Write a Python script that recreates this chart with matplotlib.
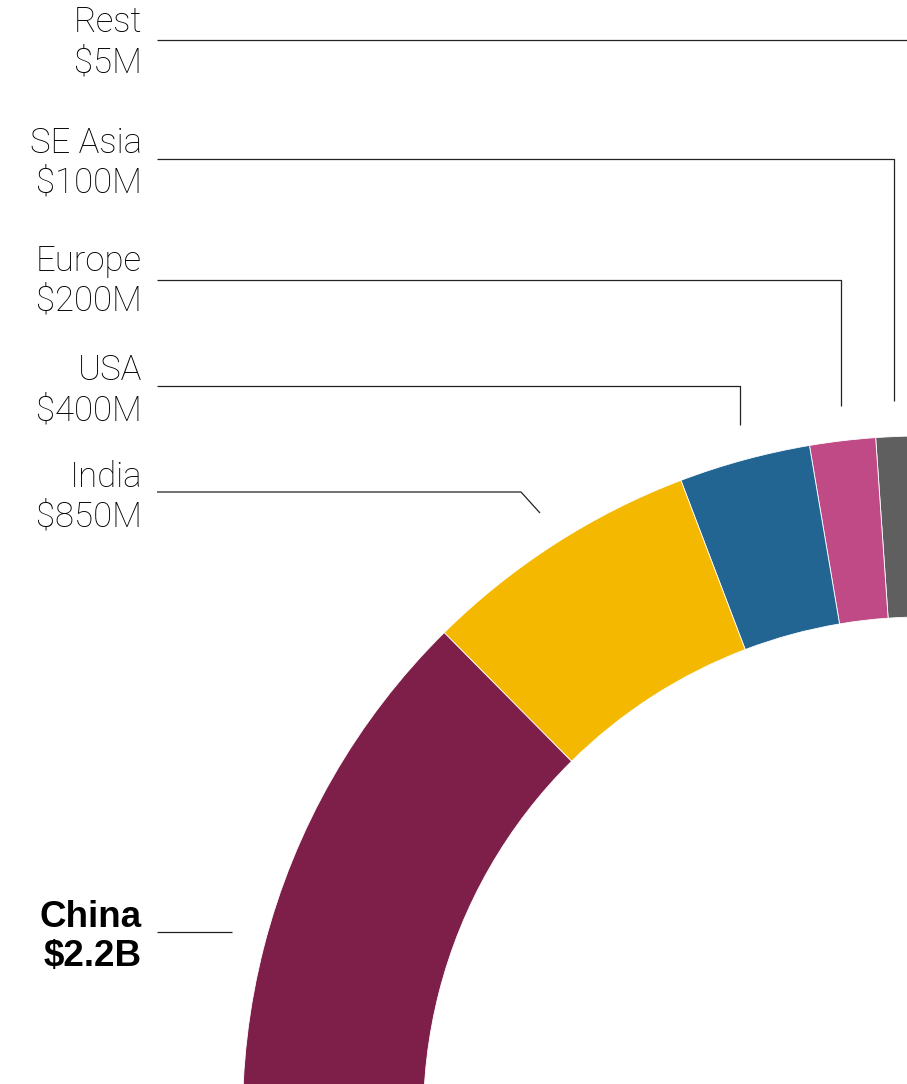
import matplotlib
matplotlib.use("Agg")
import matplotlib.pyplot as plt

# values in $B, drawn counterclockwise from the top
regions = ["Rest", "SE Asia", "Europe", "USA", "India", "China"]
values = [0.005, 0.1, 0.2, 0.4, 0.85, 2.2]
value_labels = ["$5M", "$100M", "$200M", "$400M", "$850M", "$2.2B"]
colors = ["#BDBDBD", "#5F5F5F", "#C04A85", "#226593", "#F5B800", "#7D1F48"]

W, H = 907, 1084
DEG_PER_B = 28.1  # arc degrees per $1B

plt.rcParams["font.family"] = ["Roboto", "DejaVu Sans"]

fig = plt.figure(figsize=(W / 100, H / 100), dpi=100)
ax = fig.add_axes([0, 0, 1, 1])

fracs = [v * DEG_PER_B / 360 for v in values]
ax.pie(fracs, center=(922.5, H - 1116), radius=680, startangle=91,
       counterclock=True, normalize=False, colors=colors,
       wedgeprops=dict(width=181, edgecolor="white", linewidth=0.6))

ax.set_xlim(0, W)
ax.set_ylim(0, H)
ax.set_aspect("auto")
ax.axis("off")

# label baselines (px from top) and leader lines
name_y = [32, 153, 271, 380, 487, 927]
leaders = [
    [(157, 40), (907, 40)],
    [(157, 159), (894, 159), (894, 401)],
    [(157, 280), (841, 280), (841, 406)],
    [(157, 386), (740, 386), (740, 425)],
    [(157, 492), (521, 492), (540, 513)],
    [(157, 932), (232, 932)],
]

for name, lab, y, pts in zip(regions, value_labels, name_y, leaders):
    if name == "China":
        kw = dict(fontsize=26.5, fontweight="bold",
                  family=["Liberation Sans", "DejaVu Sans"])
        gap = 39
    else:
        kw = dict(fontsize=25, fontweight="light")
        gap = 40
    ax.text(142, H - y, name, ha="right", va="baseline", color="black", **kw)
    ax.text(142, H - y - gap, lab, ha="right", va="baseline", color="black", **kw)
    xs = [p[0] for p in pts]
    ys = [H - p[1] for p in pts]
    ax.plot(xs, ys, color="#222222", lw=0.9, solid_capstyle="butt")

fig.savefig("out.png", dpi=100)
